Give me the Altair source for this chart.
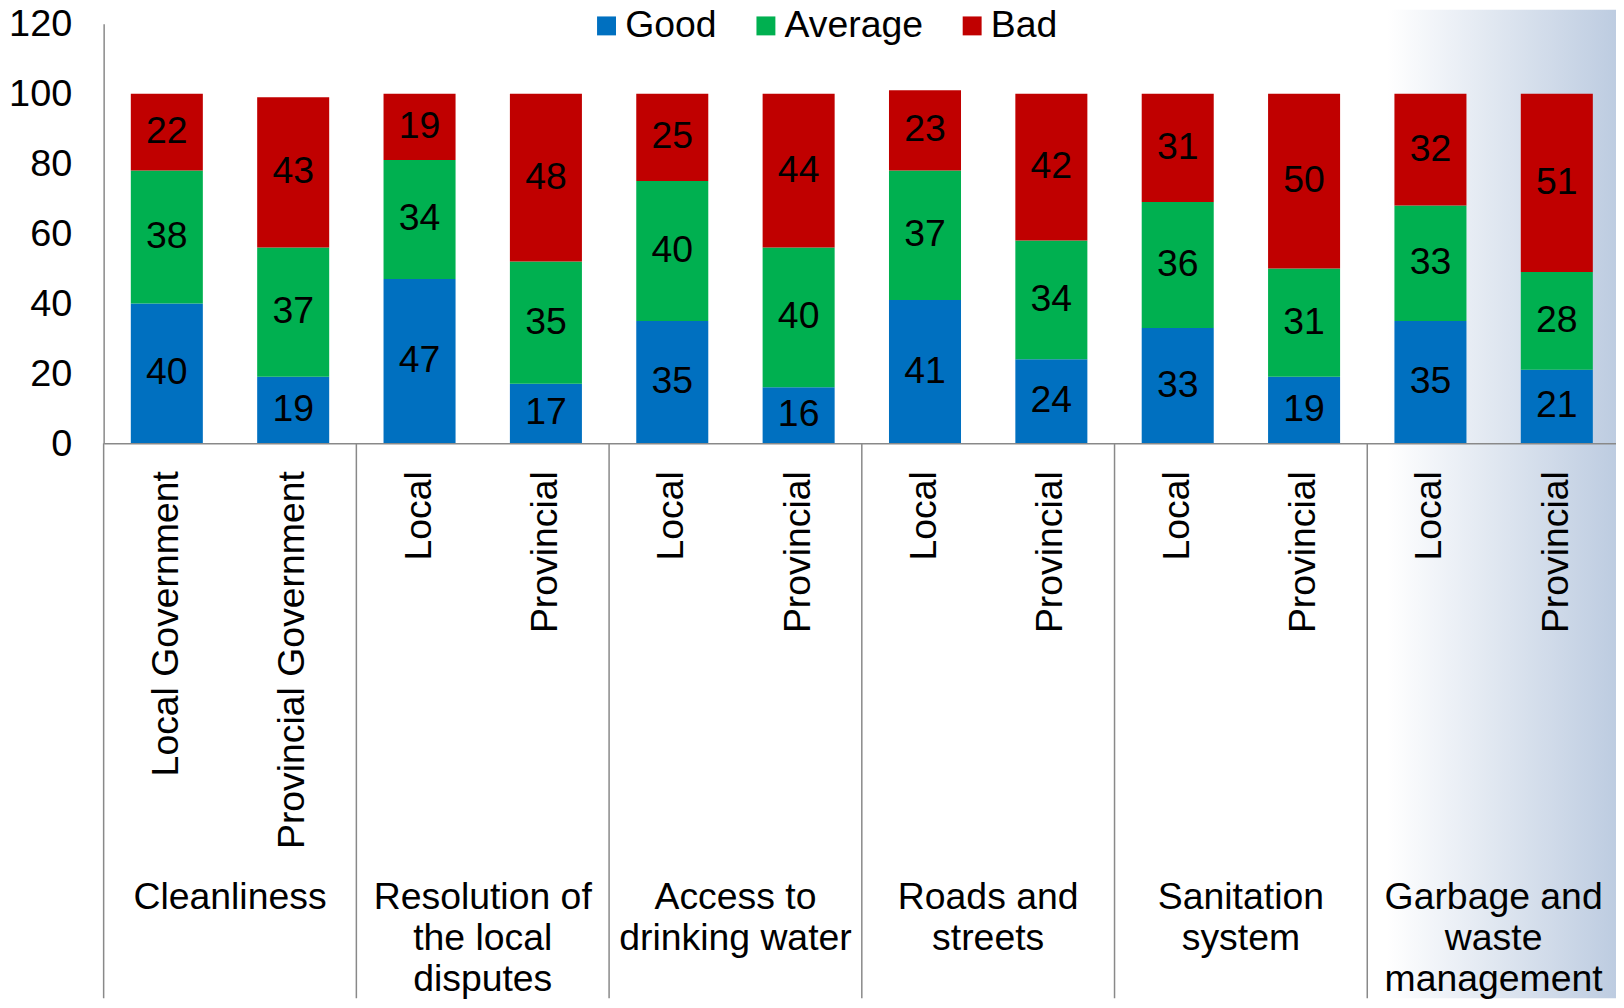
import altair as alt
import pandas as pd

# ---- data ----
groups = ["Cleanliness", "Resolution of\nthe local\ndisputes", "Access to\ndrinking water",
          "Roads and\nstreets", "Sanitation\nsystem", "Garbage and\nwaste\nmanagement"]
sub_labels = ["Local Government", "Provincial Government",
              "Local", "Provincial", "Local", "Provincial",
              "Local", "Provincial", "Local", "Provincial",
              "Local", "Provincial"]
good = [40, 19, 47, 17, 35, 16, 41, 24, 33, 19, 35, 21]
average = [38, 37, 34, 35, 40, 40, 37, 34, 36, 31, 33, 28]
bad = [22, 43, 19, 48, 25, 44, 23, 42, 31, 50, 32, 51]
categories = ["Good", "Average", "Bad"]
colors = ["#0070C0", "#00B050", "#C00000"]
y_ticks = [0, 20, 40, 60, 80, 100, 120]

ids = [f"b{i:02d}" for i in range(len(sub_labels))]

rows = []
for i, bid in enumerate(ids):
    for k, (cat, vals) in enumerate(zip(categories, [good, average, bad])):
        rows.append({"id": bid, "cat": cat, "ord": k, "value": vals[i]})
long_df = pd.DataFrame(rows)
bars_df = pd.DataFrame({"id": ids, "sub": sub_labels})
groups_df = pd.DataFrame({"gi": list(range(len(groups))), "label": groups})

W, H = 1518, 421
XR = 1522          # x range slightly beyond the visible plot (reference is cut at right)
BOTTOM = 557
FS = 37.5
GRAY = "#898989"

xband = alt.Scale(domain=ids, range=[0, XR], paddingInner=0.43, paddingOuter=0.215)
xlin = alt.Scale(domain=[0, len(ids)], range=[0, XR], nice=False, zero=False)
yscale = alt.Scale(domain=[0, 120], nice=False)
yaxis = alt.Axis(values=y_ticks, title=None, grid=False, ticks=False, tickSize=0,
                 labelFontSize=38, labelColor="black", labelPadding=32, labelOffset=1,
                 domainColor=GRAY, domainWidth=1.5, zindex=1)

gradient = alt.Gradient(
    gradient="linear",
    stops=[alt.GradientStop(color="#ffffff", offset=0),
           alt.GradientStop(color="#bccbe0", offset=1)],
    x1=0, x2=1, y1=0, y2=0,
)

bg = alt.Chart(pd.DataFrame({"a": [0]})).mark_rect(color=gradient).encode(
    x=alt.value(1288), x2=alt.value(XR), y=alt.value(-14), y2=alt.value(H + BOTTOM)
)

bars = alt.Chart(long_df).mark_bar(strokeWidth=0).encode(
    x=alt.X("id:N", scale=xband, sort=ids,
            axis=alt.Axis(labels=False, ticks=False, title=None,
                          domainColor=GRAY, domainWidth=1.5, zindex=1)),
    y=alt.Y("value:Q", stack="zero", scale=yscale, axis=yaxis),
    color=alt.Color("cat:N", scale=alt.Scale(domain=categories, range=colors),
                    legend=alt.Legend(orient="none", legendX=486, legendY=-17,
                                      direction="horizontal", title=None,
                                      symbolType="square", symbolSize=361,
                                      symbolStrokeWidth=0, symbolOpacity=1,
                                      labelFontSize=FS, labelColor="black",
                                      labelOffset=0, columnPadding=30, padding=0)),
    order=alt.Order("ord:Q"),
)

bar_text = alt.Chart(long_df).transform_stack(
    stack="value", as_=["v0", "v1"], groupby=["id"],
    sort=[alt.SortField("ord", order="ascending")],
).transform_calculate(mid="(datum.v0 + datum.v1) / 2").mark_text(
    fontSize=FS, color="black", baseline="middle", align="center"
).encode(
    x=alt.X("id:N", scale=xband, sort=ids, axis=None),
    y=alt.Y("mid:Q", scale=yscale, axis=yaxis),
    text=alt.Text("value:Q"),
)

sub_text = alt.Chart(bars_df).mark_text(
    angle=270, align="right", baseline="middle", fontSize=FS, color="black"
).encode(
    x=alt.X("id:N", scale=xband, sort=ids, axis=None),
    y=alt.value(H + 28),
    text="sub:N",
)

group_text = alt.Chart(groups_df).transform_calculate(
    center="2 * datum.gi + 1"
).mark_text(
    align="center", baseline="alphabetic", lineBreak="\n", lineHeight=41,
    fontSize=FS, color="black"
).encode(
    x=alt.X("center:Q", scale=xlin, axis=None),
    y=alt.value(H + 467.5),
    text="label:N",
)

separators = alt.Chart(groups_df).transform_calculate(
    b="2 * datum.gi"
).mark_rule(color=GRAY, strokeWidth=1.5).encode(
    x=alt.X("b:Q", scale=xlin, axis=None),
    y=alt.value(H),
    y2=alt.value(H + BOTTOM),
)

chart = alt.layer(bg, bars, bar_text, sub_text, group_text, separators).resolve_scale(
    x="independent"
).properties(
    width=W, height=H,
    padding={"left": 96, "top": 14, "right": 0, "bottom": BOTTOM},
    autosize=alt.AutoSizeParams(type="none"),
).configure(font="Liberation Sans").configure_view(stroke=None)

chart.save("out.html", embed_options={"renderer": "svg", "actions": False})
